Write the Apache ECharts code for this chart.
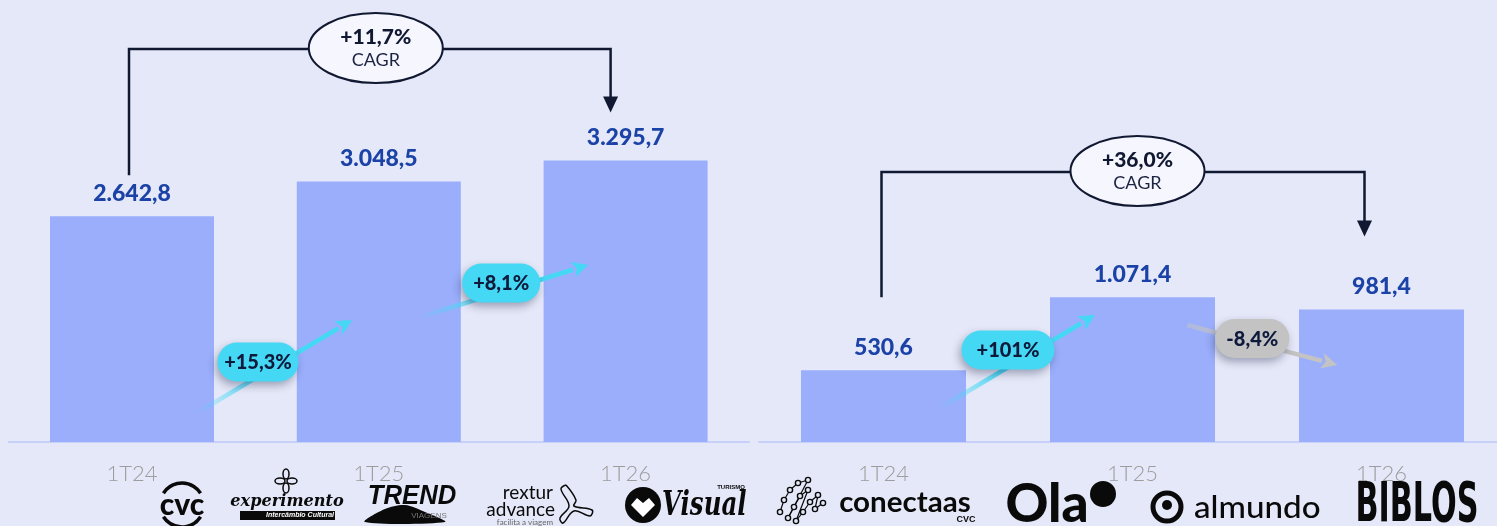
<!DOCTYPE html>
<html>
<head>
<meta charset="utf-8">
<script src="https://cdn.jsdelivr.net/npm/echarts@6/dist/echarts.min.js"></script>
<style>
  html, body { margin: 0; padding: 0; background: #e5e8f8; overflow: hidden; }
  #chart { width: 1510px; height: 526px; }
</style>
</head>
<body>
<div id="chart"></div>
<script>
// Quarterly values (R$ milhões) for the two panels
const quarters = ['1T24', '1T25', '1T26'];
const valuesLeft = [2642.8, 3048.5, 3295.7];
const valuesRight = [530.6, 1071.4, 981.4];
const growthLeft = ['+15,3%', '+8,1%'];
const growthRight = ['+101%', '-8,4%'];
const cagrLeft = '+11,7%';
const cagrRight = '+36,0%';

const BAR = '#9aaefc';
const LABEL_BLUE = '#1b43a7';
const NAVY = '#111831';
const CYAN = '#45d8f4';
const GREY = '#c3c3c3';
const FONT = 'Lato, "Open Sans", sans-serif';

// pt-BR number format: 2.642,8
function fmt(v) {
  const parts = v.toFixed(1).split('.');
  const intPart = parts[0].replace(/\B(?=(\d{3})+(?!\d))/g, '.');
  return intPart + ',' + parts[1];
}

const chart = echarts.init(document.getElementById('chart'), null, { renderer: 'canvas' });

function barSeries(idx, data, width) {
  return {
    type: 'bar',
    xAxisIndex: idx,
    yAxisIndex: idx,
    data: data,
    barWidth: width,
    itemStyle: { color: BAR },
    silent: true,
    label: {
      show: true,
      position: 'top',
      distance: 11,
      formatter: p => fmt(p.value),
      color: LABEL_BLUE,
      fontFamily: FONT,
      fontWeight: 900,
      fontSize: 23
    },
    z: 2
  };
}

function xAxis(idx) {
  return {
    type: 'category',
    gridIndex: idx,
    data: quarters,
    axisTick: { show: false },
    axisLine: { show: true, lineStyle: { color: '#c6d0f8', width: 2 } },
    axisLabel: {
      color: '#9d9d9d',
      fontFamily: FONT,
      fontWeight: 300,
      fontSize: 22,
      margin: 21
    }
  };
}

function yAxis(idx, max) {
  return {
    type: 'value',
    gridIndex: idx,
    min: 0,
    max: max,
    show: false,
    splitLine: { show: false }
  };
}

chart.setOption({
  backgroundColor: '#e5e8f8',
  animation: false,
  grid: [
    { left: 8.6, width: 740.4, top: 30, bottom: 84 },
    { left: 759, width: 747, top: 30, bottom: 84 }
  ],
  xAxis: [xAxis(0), xAxis(1)],
  yAxis: [yAxis(0, 4822), yAxis(1, 3052)],
  series: [barSeries(0, valuesLeft, 164), barSeries(1, valuesRight, 165)]
});

// Annotation layout (pixel offsets around the bars)
const panels = [
  {
    idx: 0, values: valuesLeft, growth: growthLeft, cagr: cagrLeft,
    bracketY: 49, startDx: -3, startGap: 41, endDx: -15, endGap: 48, ellipseDx: -3,
    pills: [
      { dx: 2.6, cy: 362, w: 81, color: CYAN, from: [-61, 51], to: [94, -42] },
      { dx: -1, cy: 283, w: 78, color: CYAN, from: [-81, 34], to: [87, -18] }
    ]
  },
  {
    idx: 1, values: valuesRight, growth: growthRight, cagr: cagrRight,
    bracketY: 172, startDx: -2, startGap: 73, endDx: -17, endGap: 73, ellipseDx: 5,
    pills: [
      { dx: 0, cy: 350, w: 93, color: CYAN, from: [-68, 58], to: [87, -35] },
      { dx: -4.7, cy: 338.5, w: 74, color: GREY, from: [-65, -13.5], to: [85, 26.5] }
    ]
  }
];

function arrow(x0, y0, x1, y1, color, fade) {
  const ang = Math.atan2(y1 - y0, x1 - x0);
  const hl = 16, hw = 8;
  const bx = x1 - hl * Math.cos(ang), by = y1 - hl * Math.sin(ang);
  const px = -Math.sin(ang), py = Math.cos(ang);
  const stroke = new echarts.graphic.LinearGradient(x0, y0, bx, by, [
    { offset: 0, color: fade },
    { offset: 0.45, color: color },
    { offset: 1, color: color }
  ], true);
  return [
    { type: 'line', shape: { x1: x0, y1: y0, x2: bx, y2: by }, style: { stroke: stroke, lineWidth: 4.5 }, z: 10 },
    { type: 'polygon', shape: { points: [[x1, y1], [bx + px * hw, by + py * hw], [bx + 4 * Math.cos(ang), by + 4 * Math.sin(ang)], [bx - px * hw, by - py * hw]] }, style: { fill: color }, z: 10 }
  ];
}

const gfx = [];
panels.forEach(p => {
  const pts = quarters.map((q, i) => chart.convertToPixel({ xAxisIndex: p.idx, yAxisIndex: p.idx }, [q, p.values[i]]));
  // CAGR bracket from first to last quarter
  const sx = pts[0][0] + p.startDx, sy = pts[0][1] - p.startGap;
  const ex = pts[2][0] + p.endDx, ey = pts[2][1] - p.endGap;
  gfx.push({ type: 'polyline', shape: { points: [[sx, sy], [sx, p.bracketY], [ex, p.bracketY], [ex, ey - 14]] },
    style: { stroke: NAVY, lineWidth: 2.5, fill: null }, z: 20 });
  gfx.push({ type: 'polygon', shape: { points: [[ex - 7.5, ey - 16], [ex + 7.5, ey - 16], [ex, ey]] }, style: { fill: NAVY }, z: 20 });
  const ecx = pts[1][0] + p.ellipseDx, ecy = p.bracketY - 1;
  gfx.push({ type: 'ellipse', shape: { cx: ecx, cy: ecy, rx: 67, ry: 35 }, style: { fill: '#f6f7fe', stroke: NAVY, lineWidth: 2 }, z: 21 });
  gfx.push({ type: 'text', x: ecx, y: ecy - 11, z: 22,
    style: { text: p.cagr, fill: NAVY, font: '900 21px ' + FONT, textAlign: 'center', textVerticalAlign: 'middle', verticalAlign: 'middle' } });
  gfx.push({ type: 'text', x: ecx, y: ecy + 12, z: 22,
    style: { text: 'CAGR', fill: '#1d2442', font: '18px ' + FONT, textAlign: 'center', textVerticalAlign: 'middle', verticalAlign: 'middle' } });

  // Quarter-over-quarter growth pills
  p.pills.forEach((pl, i) => {
    const cx = (pts[i][0] + pts[i + 1][0]) / 2 + pl.dx, cy = pl.cy;
    const fade = pl.color === CYAN ? 'rgba(69,216,244,0)' : 'rgba(195,195,195,0.5)';
    gfx.push(...arrow(cx + pl.from[0], cy + pl.from[1], cx + pl.to[0], cy + pl.to[1], pl.color, fade));
    gfx.push({ type: 'rect', shape: { x: cx - pl.w / 2, y: cy - 19.5, width: pl.w, height: 39, r: 19.5 }, z: 12,
      style: { fill: pl.color, shadowBlur: 9, shadowOffsetY: 4, shadowOffsetX: -2, shadowColor: 'rgba(20,25,60,0.35)' } });
    gfx.push({ type: 'text', x: cx, y: cy + 1, z: 13,
      style: { text: p.growth[i], fill: '#0e1a3c', font: '900 20px ' + FONT, textAlign: 'center', textVerticalAlign: 'middle', verticalAlign: 'middle' } });
  });
});

// Brand wordmarks along the bottom
function txt(x, y, text, font, fill, align, sx) {
  const el = { type: 'text', x: x, y: y, z: 30,
    style: { text: text, font: font, fill: fill || '#0a0a0a', textAlign: align || 'center', textVerticalAlign: 'middle', verticalAlign: 'middle' } };
  if (sx) { el.scaleX = sx; el.originX = 0; el.originY = 0; }
  return el;
}
const K = '#0a0a0a';
// cvc
gfx.push({ type: 'arc', shape: { cx: 182, cy: 505, r: 22, startAngle: Math.PI * 1.18, endAngle: Math.PI * 1.82 }, style: { stroke: K, lineWidth: 3.5, fill: null }, z: 30 });
gfx.push({ type: 'arc', shape: { cx: 182, cy: 505, r: 22, startAngle: Math.PI * 0.18, endAngle: Math.PI * 0.82 }, style: { stroke: K, lineWidth: 3.5, fill: null }, z: 30 });
gfx.push(txt(182, 505, 'cvc', '900 30px ' + FONT, K));
// experimento
[[286, 474, 3, 5], [286, 488, 3, 5], [280, 481, 5, 3], [292, 481, 5, 3]].forEach(e =>
  gfx.push({ type: 'ellipse', shape: { cx: e[0], cy: e[1], rx: e[2], ry: e[3] }, style: { stroke: K, lineWidth: 1.5, fill: null }, z: 30 }));
gfx.push(txt(287, 502, 'experimento', 'italic bold 17px "DejaVu Serif", serif', K, 'center', 0.95));
gfx.push({ type: 'rect', shape: { x: 240, y: 511, width: 95, height: 9 }, style: { fill: K }, z: 30 });
gfx.push(txt(300, 515.5, 'Intercâmbio Cultural', 'italic bold 7px "Liberation Sans", sans-serif', '#fff'));
// TREND
gfx.push({ type: 'polygon', shape: { smooth: 0.3, points: [[365, 522], [385, 509], [405, 505], [425, 512], [445, 522]] }, style: { fill: K }, z: 30 });
gfx.push(txt(412, 497, 'TREND', 'italic 900 27px "Liberation Sans", sans-serif', K, 'center', 0.95));
gfx.push(txt(429, 516, 'VIAGENS', '8px "Liberation Sans", sans-serif', '#777'));
// rextur advance
gfx.push(txt(553, 493, 'rextur', '19px ' + FONT, K, 'right'));
gfx.push(txt(555, 510, 'advance', '19px ' + FONT, K, 'right'));
gfx.push(txt(553, 522, 'facilita a viagem', '8px ' + FONT, '#666', 'right'));
gfx.push({ type: 'polyline', shape: { smooth: 0.4, points: [[566, 485], [576, 500], [574, 506], [592, 510], [590, 516], [574, 511], [563, 523], [560, 518], [569, 506], [561, 489], [566, 485]] }, style: { stroke: K, lineWidth: 1.5, fill: null }, z: 30 });
// Visual
gfx.push({ type: 'circle', shape: { cx: 643, cy: 505, r: 18 }, style: { fill: K }, z: 30 });
gfx.push({ type: 'polygon', shape: { points: [[643, 517], [631, 505], [637, 498], [643, 503], [649, 498], [655, 505]] }, style: { fill: '#fff' }, z: 31 });
gfx.push(txt(662, 506, 'Visual', 'italic bold 34px "DejaVu Serif", serif', K, 'left', 0.72));
gfx.push(txt(731, 487, 'TURISMO', 'bold 6px "Liberation Sans", sans-serif', K));
// conectaas
const net = [[780, 512], [784, 500], [790, 490], [798, 483], [808, 480], [788, 518], [794, 507], [800, 496], [808, 490], [796, 521], [803, 512], [810, 502], [818, 495], [815, 509], [823, 503]];
net.forEach((n, i) => {
  if (i > 0) gfx.push({ type: 'line', shape: { x1: net[i - 1][0], y1: net[i - 1][1], x2: n[0], y2: n[1] }, style: { stroke: K, lineWidth: 1.2 }, z: 30 });
  gfx.push({ type: 'circle', shape: { cx: n[0], cy: n[1], r: 2.6 }, style: { fill: '#e5e8f8', stroke: K, lineWidth: 1.4 }, z: 31 });
});
gfx.push(txt(905, 503, 'conectaas', 'bold 29px ' + FONT, K, 'center', 1.02));
gfx.push(txt(966, 520, 'CVC', 'bold 9px "Liberation Sans", sans-serif', K));
// Ola
gfx.push(txt(1047, 505, 'Ola', '900 53px ' + FONT, K, 'center'));
gfx.push({ type: 'circle', shape: { cx: 1103, cy: 494, r: 13 }, style: { fill: K }, z: 30 });
// almundo
gfx.push({ type: 'circle', shape: { cx: 1167, cy: 507, r: 14 }, style: { stroke: K, lineWidth: 5, fill: null }, z: 30 });
gfx.push({ type: 'circle', shape: { cx: 1167, cy: 505, r: 5 }, style: { fill: K }, z: 30 });
gfx.push(txt(1194, 508, 'almundo', '500 31px ' + FONT, K, 'left', 1.07));
// BIBLOS
gfx.push(txt(1417, 506, 'BIBLOS', 'bold 56px "DejaVu Sans", sans-serif', K, 'center', 0.54));

chart.setOption({ graphic: { elements: gfx } });
</script>
</body>
</html>
